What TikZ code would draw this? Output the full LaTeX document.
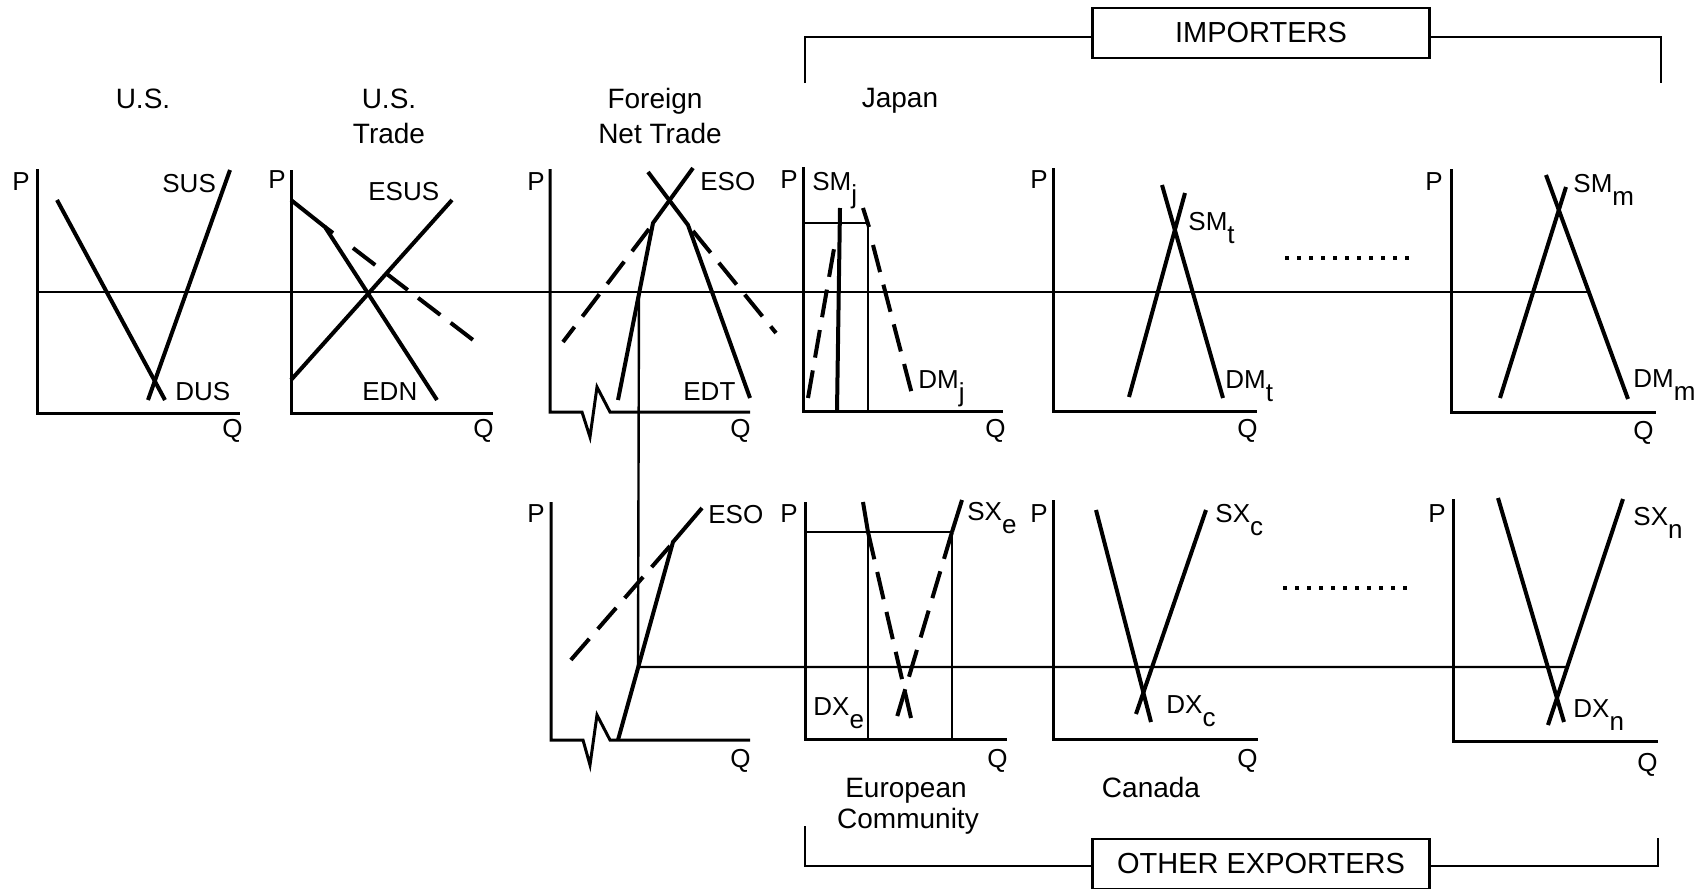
\documentclass[tikz,border=0pt]{standalone}
\usepackage{fontspec}
\setmainfont{Liberation Sans}
\begin{document}
\begin{tikzpicture}[x=0.5pt,y=-0.5pt,
  axis/.style={line width=1.5pt},
  crv/.style={line width=2pt},
  dcrv/.style={line width=2pt,dash pattern=on 14pt off 6.5pt},
  price/.style={line width=1.2pt},
  thinl/.style={line width=1.1pt},
  lbl/.style={inner sep=0pt,anchor=base west,font=\fontsize{13}{15}\selectfont},
  ttl/.style={inner sep=0pt,anchor=base,font=\fontsize{14}{17}\selectfont,align=center},
  boxl/.style={draw,line width=1.1pt,inner sep=0pt,minimum width=168.5pt,minimum height=25pt,font=\fontsize{14.5}{17}\selectfont,fill=white},
  dotl/.style={line width=2.2pt,dash pattern=on 2pt off 4pt}]
\useasboundingbox (0,0) rectangle (1699,889);
\newcommand{\sbx}[1]{\raisebox{-6.5pt}{#1}}
% ---------- titles ----------
\node[ttl] (t1) at (143,108) {U.S.};
\node[ttl] (t2) at (389,108) {U.S.};
\node[ttl] (t2b) at (389,143) {Trade};
\node[ttl] (t3) at (655,108) {Foreign};
\node[ttl] (t3b) at (660,143) {Net Trade};
\node[ttl] (t4) at (900,107) {Japan};
\node[ttl] (t5) at (906,797) {European};
\node[ttl] (t5b) at (908,828) {Community};
\node[ttl] (t6) at (1151,797) {Canada};
% ---------- brackets ----------
\node[boxl] (imp) at (1261,33) {IMPORTERS};
\draw[thinl] (805,83) -- (805,37) -- (imp.west |- 0,37);
\draw[thinl] (imp.east |- 0,37) -- (1661,37) -- (1661,83);
\node[boxl] (oex) at (1261,864) {OTHER EXPORTERS};
\draw[thinl] (805,826) -- (805,866) -- (oex.west |- 0,866);
\draw[thinl] (oex.east |- 0,866) -- (1658,866) -- (1658,838);
% ---------- axes ----------
\draw[axis] (37,169) -- (37,413) -- (240,413);
\draw[axis] (291,170) -- (291,413) -- (493,413);
\draw[axis] (550,169) -- (550,412) -- (582,412) -- (590,437) -- (597,387) -- (610,412) -- (750,412);
\draw[axis] (803,167) -- (803,411) -- (1003,411);
\draw[axis] (1053,168) -- (1053,411) -- (1257,411);
\draw[axis] (1451,169) -- (1451,412) -- (1656,412);
\draw[axis] (551,502) -- (551,740) -- (583,740) -- (590,765) -- (597,715) -- (610,740) -- (750,740);
\draw[axis] (805,502) -- (805,739) -- (1007,739);
\draw[axis] (1053,500) -- (1053,739) -- (1258,739);
\draw[axis] (1453,499) -- (1453,741) -- (1658,741);
% ---------- price lines ----------
\draw[price] (37,292) -- (1589,292);
\draw[price] (639,292) -- (638,667) -- (1567,667);
% ---------- U.S. ----------
\draw[crv] (57,200) -- (165,400);
\draw[crv] (230,170) -- (148,400);
% ---------- U.S. trade ----------
\draw[crv] (291,200) -- (325,227) -- (437,400);
\draw[crv] (325,227) -- (333,233);
\draw[dcrv] (353,248) -- (477,343);
\draw[crv] (291,380) -- (452,200);
% ---------- Foreign top ----------
\draw[crv] (618,400) -- (653,223) -- (693,168);
\draw[crv] (648,172) -- (688,225) -- (750,398);
\draw[dcrv] (649,229) -- (563,342);
\draw[dcrv] (693,231) -- (776,333);
% ---------- Japan ----------
\draw[price] (803,223) -- (868,223);
\draw[crv] (840,208) -- (837,411);
\draw[price] (868,223) -- (868,411);
\draw[crv] (863,208) -- (869,227);
\draw[dcrv] (873,245) -- (913,398);
\draw[dcrv] (808,398) -- (835,243);
% ---------- t ----------
\draw[crv] (1129,397) -- (1185,193);
\draw[crv] (1162,185) -- (1223,398);
% ---------- m ----------
\draw[crv] (1500,398) -- (1566,187);
\draw[crv] (1546,175) -- (1628,399);
% ---------- dotted ----------
\draw[dotl] (1285,258) -- (1410,258);
\draw[dotl] (1283,588) -- (1410,588);
% ---------- Foreign bottom ----------
\draw[crv] (618,740) -- (673,542) -- (702,508);
\draw[dcrv] (670,546) -- (563,669);
% ---------- EC ----------
\draw[price] (805,532) -- (952,532);
\draw[price] (868,532) -- (868,739);
\draw[price] (952,532) -- (952,739);
\draw[crv] (863,502) -- (868,532);
\draw[dcrv] (868,532) -- (911,718);
\draw[crv] (962,500) -- (952,532);
\draw[dcrv] (952,532) -- (897,717);
% ---------- Canada ----------
\draw[crv] (1096,510) -- (1151,722);
\draw[crv] (1206,510) -- (1136,714);
% ---------- n ----------
\draw[crv] (1498,498) -- (1564,722);
\draw[crv] (1623,499) -- (1548,725);
% ---------- labels ----------
\node[lbl] (p1) at (12,190) {P};
\node[lbl] (q1) at (222,437) {Q};
\node[lbl] (sus) at (162,192) {SUS};
\node[lbl] (dus) at (175,400) {DUS};
\node[lbl] (p2) at (268,188) {P};
\node[lbl] (q2) at (473,437) {Q};
\node[lbl] (esus) at (368,200) {ESUS};
\node[lbl] (edn) at (362,400) {EDN};
\node[lbl] (p3) at (527,190) {P};
\node[lbl] (q3) at (730,437) {Q};
\node[lbl] (eso1) at (700,190) {ESO};
\node[lbl] (edt) at (683,400) {EDT};
\node[lbl] (p4) at (780,188) {P};
\node[lbl] (q4) at (985,437) {Q};
\node[lbl] (smj) at (812,190) {SM\sbx{j}};
\node[lbl] (dmj) at (918,388) {DM\sbx{j}};
\node[lbl] (p5) at (1030,188) {P};
\node[lbl] (q5) at (1237,437) {Q};
\node[lbl] (smt) at (1188,230) {SM\sbx{t}};
\node[lbl] (dmt) at (1225,388) {DM\sbx{t}};
\node[lbl] (p6) at (1425,190) {P};
\node[lbl] (q6) at (1633,439) {Q};
\node[lbl] (smm) at (1573,192) {SM\sbx{m}};
\node[lbl] (dmm) at (1633,387) {DM\sbx{m}};
\node[lbl] (p7) at (527,522) {P};
\node[lbl] (q7) at (730,767) {Q};
\node[lbl] (eso2) at (708,523) {ESO};
\node[lbl] (p8) at (780,522) {P};
\node[lbl] (q8) at (987,767) {Q};
\node[lbl] (sxe) at (967,520) {SX\sbx{e}};
\node[lbl] (dxe) at (813,715) {DX\sbx{e}};
\node[lbl] (p9) at (1030,522) {P};
\node[lbl] (q9) at (1237,767) {Q};
\node[lbl] (sxc) at (1215,522) {SX\sbx{c}};
\node[lbl] (dxc) at (1166,713) {DX\sbx{c}};
\node[lbl] (p10) at (1428,522) {P};
\node[lbl] (q10) at (1637,771) {Q};
\node[lbl] (sxn) at (1633,525) {SX\sbx{n}};
\node[lbl] (dxn) at (1573,717) {DX\sbx{n}};
\end{tikzpicture}
\end{document}
